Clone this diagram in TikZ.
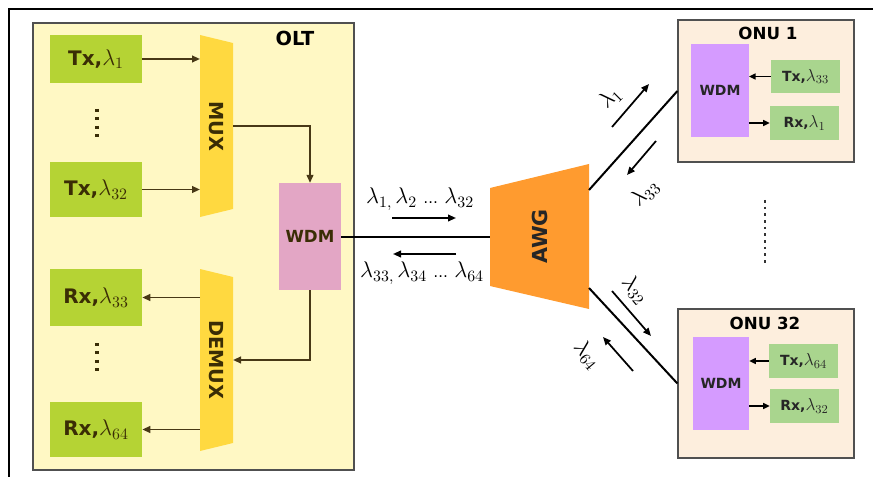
\RequirePackage{fix-cm}
\documentclass[tikz,border=0pt]{standalone}
\usepackage{fontspec}
\setmainfont{DejaVu Sans}
\usetikzlibrary{arrows.meta,calc}
\definecolor{oltfill}{RGB}{255,248,196}
\definecolor{oltgreen}{RGB}{181,211,52}
\definecolor{muxcol}{RGB}{255,217,64}
\definecolor{wdmpink}{RGB}{227,166,197}
\definecolor{awgcol}{RGB}{255,155,47}
\definecolor{onufill}{RGB}{253,238,221}
\definecolor{onupurple}{RGB}{213,155,255}
\definecolor{onugreen}{RGB}{169,213,142}
\definecolor{txtdark}{RGB}{58,45,5}
\definecolor{brownline}{RGB}{72,56,22}
\definecolor{boxline}{RGB}{80,80,80}
\newcommand{\lamb}[2][17]{{\fontsize{#1}{#1}\selectfont$\lambda_{#2}$}}
\tikzset{
  gbox/.style={fill=oltgreen, inner sep=0pt, minimum width=69pt, text=txtdark,
    font=\fontsize{15}{17}\selectfont\bfseries},
  olttext/.style={text=txtdark, font=\fontsize{14.5}{16}\selectfont\bfseries},
  oarrow/.style={draw=brownline, line width=1.4pt, -{Triangle[length=6pt,width=5pt]}},
  narrow/.style={draw=black, line width=1.1pt, -{Triangle[length=5pt,width=4.5pt]}},
  larrow/.style={draw=black, line width=1.3pt, -{Triangle[length=6pt,width=5pt]}},
  fibre/.style={draw=black, line width=1.5pt},
  onubox/.style={draw=boxline, line width=0.9pt, fill=onufill, minimum width=132pt, inner sep=0pt},
  onuwdm/.style={fill=onupurple, inner sep=0pt, minimum width=43pt, minimum height=69.75pt,
    font=\fontsize{10.5}{12}\selectfont\bfseries, text=black!85},
  onugbox/.style={fill=onugreen, inner sep=0pt, minimum width=51.75pt, minimum height=25pt,
    font=\fontsize{10.5}{12}\selectfont\bfseries, text=black!85},
  lam/.style={font=\fontsize{15}{17}\selectfont, inner sep=0pt},
  ghost/.style={inner sep=0pt, outer sep=0pt},
}
\begin{document}
\begin{tikzpicture}[x=0.75pt,y=-0.75pt]
\useasboundingbox (0,0) rectangle (873,477);
% outer frame (partly cut)
\draw[line width=1.5pt] (9,477) -- (9,9) -- (873,9);

% OLT
\node[draw=boxline, line width=0.9pt, fill=oltfill, inner sep=0pt,
      minimum width=240.75pt, minimum height=335.25pt] (olt) at (193.5,246.5) {};
\node[font=\fontsize{14.5}{16}\selectfont\bfseries, text=black] (oltlbl) at (295,38) {OLT};

\node[gbox, minimum height=36pt] (tx1) at (96,59) {Tx,\lamb{1}};
\node[gbox, minimum height=41pt] (tx32) at (96,189.5) {Tx,\lamb{32}};
\node[gbox, minimum height=43pt] (rx33) at (96,297.5) {Rx,\lamb{33}};
\node[gbox, minimum height=41pt] (rx64) at (96,429.5) {Rx,\lamb{64}};

\draw[line width=2.3pt, txtdark, dash pattern=on 2.3pt off 4pt] (97,109) -- (97,137);
\draw[line width=2.3pt, txtdark, dash pattern=on 2.3pt off 4pt] (97,343) -- (97,371);

% MUX
\node[ghost, minimum width=24.75pt, minimum height=136.5pt] (mux) at (216.5,126) {};
\fill[muxcol] (mux.north west) -- ($(mux.north east)+(0,8)$) -- ($(mux.south east)+(0,-8)$) -- (mux.south west) -- cycle;
\node[olttext, rotate=-90] (muxlbl) at (mux.center) {MUX};

% DEMUX
\node[ghost, minimum width=24.75pt, minimum height=136.5pt] (demux) at (216.5,360) {};
\fill[muxcol] (demux.north west) -- ($(demux.north east)+(0,8)$) -- ($(demux.south east)+(0,-8)$) -- (demux.south west) -- cycle;
\node[olttext, rotate=-90] (demuxlbl) at (demux.center) {DEMUX};

% OLT WDM
\node[fill=wdmpink, inner sep=0pt, minimum width=46.5pt, minimum height=80pt,
      text=txtdark, font=\fontsize{12.5}{14}\selectfont\bfseries] (wdm) at (310,236.5) {WDM};

\draw[oarrow] (tx1.east) -- (tx1.east -| mux.west);
\draw[oarrow] (tx32.east) -- (tx32.east -| mux.west);
\draw[oarrow] (mux.east) -| (wdm.north);
\draw[oarrow] (wdm.south) |- (demux.east);
\draw[oarrow] (rx33.east -| demux.west) -- (rx33.east);
\draw[oarrow] (rx64.east -| demux.west) -- (rx64.east);

% AWG
\node[ghost, minimum width=74.25pt, minimum height=108.75pt] (awg) at (539.5,236.5) {};
\fill[awgcol] ($(awg.north west)+(0,24)$) -- (awg.north east) -- (awg.south east) -- ($(awg.south west)+(0,-23)$) -- cycle;
\node[font=\fontsize{15.5}{17}\selectfont\bfseries, text=black!85, rotate=90] (awglbl) at (awg.center) {AWG};

\draw[fibre] (wdm.east) -- (awg.west);

\coordinate (ra1) at (392,218); \coordinate (ra2) at (456,218);
\coordinate (la1) at (456,254); \coordinate (la2) at (393,254);
\draw[larrow] (ra1) -- (ra2);
\draw[larrow] (la1) -- (la2);
\node[lam] (uplbl) at (420,199) {\lamb{1,}\,\lamb{2} {\fontsize{11}{12}\selectfont…} \lamb{32}};
\node[lam] (dnlbl) at (422,273) {\lamb{33,}\,\lamb{34} {\fontsize{11}{12}\selectfont…} \lamb{64}};

% ONU 1
\node[onubox, minimum height=106.5pt] (onu1) at (766,91) {};
\node[font=\fontsize{12.5}{14}\selectfont\bfseries] (onu1lbl) at (768,33) {ONU 1};
\node[onuwdm] (w1) at (720,90.5) {WDM};
\node[onugbox] (tx33) at (805.5,76.5) {Tx,\lamb[13]{33}};
\node[onugbox] (rx1) at (804.5,123) {Rx,\lamb[13]{1}};
\draw[narrow] (tx33.west) -- (tx33.west -| w1.east);
\draw[narrow] (w1.east |- rx1.west) -- (rx1.west);

% ONU 32
\node[onubox, minimum height=111.75pt] (onu32) at (766,383.5) {};
\node[font=\fontsize{12.5}{14}\selectfont\bfseries] (onu32lbl) at (765,323) {ONU 32};
\node[onuwdm, minimum width=42pt] (w32) at (721,383.5) {WDM};
\node[onugbox] (tx64) at (803.5,361) {Tx,\lamb[13]{64}};
\node[onugbox] (rx32) at (804.5,406) {Rx,\lamb[13]{32}};
\draw[narrow] (tx64.west) -- (tx64.west -| w32.east);
\draw[narrow] (w32.east |- rx32.west) -- (rx32.west);

% fibres AWG to ONUs
\coordinate (awgu) at ($(awg.north east)+(0,26)$);
\coordinate (awgd) at ($(awg.south east)+(0,-21)$);
\draw[fibre] (awgu) -- (onu1.west);
\draw[fibre] (awgd) -- (onu32.west);

% wavelength arrows
\coordinate (a1s) at (612,127); \coordinate (a1e) at (649,84);
\coordinate (a33s) at (656,141); \coordinate (a33e) at (627,175);
\coordinate (a32s) at (612,291); \coordinate (a32e) at (651,336);
\coordinate (a64s) at (633,371); \coordinate (a64e) at (603,337);
\draw[larrow] (a1s) -- (a1e);
\draw[larrow] (a33s) -- (a33e);
\draw[larrow] (a32s) -- (a32e);
\draw[larrow] (a64s) -- (a64e);
\node[lam, rotate=45] (l1) at (610,98) {\lamb{1}};
\node[lam, rotate=45] (l33) at (645,193) {\lamb{33}};
\node[lam, rotate=-50] (l32) at (635,290) {\lamb{32}};
\node[lam, rotate=-50] (l64) at (587,355) {\lamb{64}};

% dots between ONUs
\draw[line width=2.2pt, black!80, dash pattern=on 2pt off 3pt] (765,200) -- (765,266);
\end{tikzpicture}
\end{document}
